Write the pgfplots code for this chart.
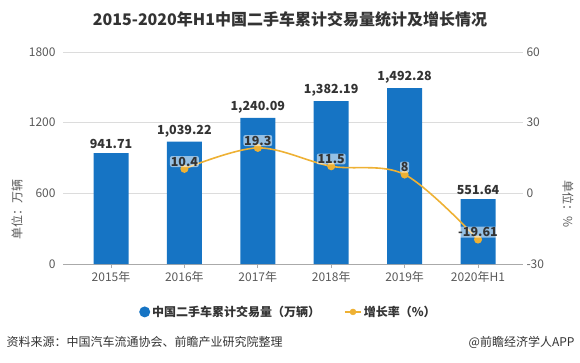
\documentclass[border=0pt]{standalone}
\usepackage{pgfplots}
\pgfplotsset{compat=1.18}
\usepackage{fontspec}
\setmainfont{Noto Sans CJK SC}
\definecolor{barblue}{RGB}{22,116,196}
\definecolor{lineorg}{RGB}{238,177,52}
\definecolor{tickgray}{RGB}{89,89,89}
\definecolor{gridgray}{RGB}{220,220,220}
\definecolor{axgray}{RGB}{170,170,170}
\definecolor{darktext}{RGB}{51,51,51}
\begin{document}
\begin{tikzpicture}[x=1bp,y=1bp]
\useasboundingbox (0,0) rectangle (580,362);
\pgfplotsset{
  common/.style={
    scale only axis, width=460bp, height=212bp,
    at={(63bp,98bp)}, anchor=south west,
    xmin=-0.654, xmax=5.613,
    /pgf/number format/assume math mode=true,
    /pgf/number format/1000 sep={},
    ticklabel style={font=\fontsize{12bp}{14bp}\selectfont, text=tickgray},
    y axis line style={draw=none},
    ytick style={draw=none},
  }
}
\begin{axis}[common,
  ymin=0, ymax=1800, ytick={0,600,1200,1800},
  axis x line*=bottom, axis y line*=left,
  x axis line style={draw=axgray, line width=0.8bp, -},
  xtick={0,1,2,3,4,5},
  xticklabels={2015年,2016年,2017年,2018年,2019年,2020年H1},
  xtick style={draw=axgray, line width=0.8bp},
  tick align=outside, major tick length=4bp,
  ymajorgrids, grid style={gridgray, line width=0.7bp},
  ybar, bar width=35bp,
  nodes near coords, point meta=explicit symbolic,
  nodes near coords style={font=\bfseries\fontsize{12.5bp}{14bp}\selectfont, text=darktext, yshift=1bp},
  legend style={at={(axis description cs:0.49,-0.226)}, anchor=center, draw=none, fill=none,
    legend columns=2, font=\bfseries\fontsize{12bp}{14bp}\selectfont, text=darktext,
    /tikz/every even column/.append style={column sep=22bp}},
]
\addplot[fill=barblue, draw=none,
  legend image code/.code={\fill[barblue] (5bp,0) circle (5.5bp);}]
  coordinates {(0,941.71) [941.71] (1,1039.22) [{1,039.22}] (2,1240.09) [{1,240.09}]
               (3,1382.19) [{1,382.19}] (4,1492.28) [{1,492.28}] (5,551.64) [551.64]};
\addlegendentry{中国二手车累计交易量（万辆）}
\addlegendimage{legend image code/.code={\draw[lineorg, line width=1.6bp] (0,0)--(16bp,0); \fill[lineorg] (8bp,0) circle (3bp);}}
\addlegendentry{增长率（\%）}
\end{axis}
\begin{axis}[common,
  ymin=-30, ymax=60, ytick={-30,0,30,60},
  axis x line=none, axis y line*=right,
  nodes near coords, point meta=explicit symbolic,
  nodes near coords style={font=\bfseries\fontsize{12.5bp}{14bp}\selectfont, text=darktext, anchor=south,
    yshift=1bp, fill=white, fill opacity=0.55, text opacity=1, inner sep=0.8bp, rounded corners=2bp},
]
\addplot[lineorg, line width=1.6bp, smooth, tension=0.55, mark=*, mark size=3.2bp,
  mark options={fill=lineorg, draw=lineorg}]
  coordinates {(1,10.4) [10.4] (2,19.3) [19.3] (3,11.5) [11.5] (4,8) [8] (5,-19.61) [-19.61]};
\end{axis}
\node[font=\bfseries\fontsize{16bp}{18bp}\selectfont, text=darktext] at (290,343) {2015-2020年H1中国二手车累计交易量统计及增长情况};
\node[rotate=90, font=\fontsize{12bp}{14bp}\selectfont, text=tickgray] at (17,153) {单位：万辆};
\node[rotate=-90, font=\fontsize{12bp}{14bp}\selectfont, text=tickgray] at (568,158) {单位：\%};
\node[anchor=west, font=\fontsize{12bp}{14bp}\selectfont, text=darktext] at (3,20) {资料来源：中国汽车流通协会、前瞻产业研究院整理};
\node[anchor=east, font=\fontsize{12bp}{14bp}\selectfont, text=darktext] at (578,20) {@前瞻经济学人APP};
\end{tikzpicture}
\end{document}
